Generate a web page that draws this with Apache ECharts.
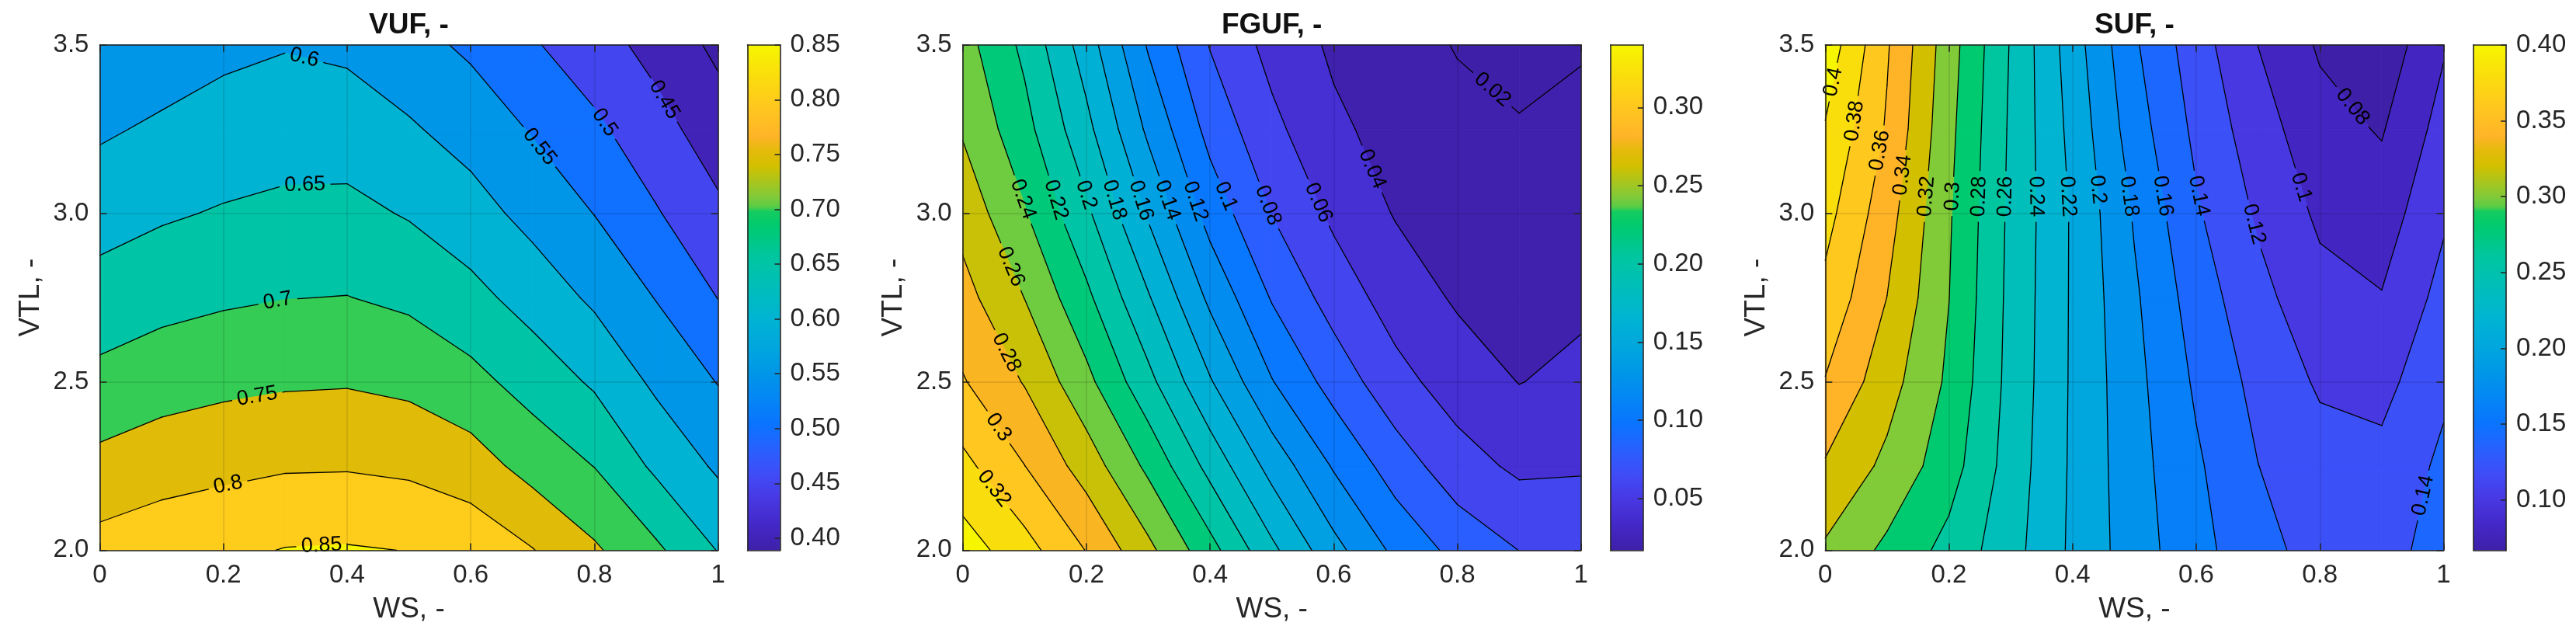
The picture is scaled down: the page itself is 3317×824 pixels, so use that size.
<!DOCTYPE html>
<html>
<head>
<meta charset="utf-8">
<script src="https://cdn.jsdelivr.net/npm/echarts@6.0.0/dist/echarts.min.js"></script>
<style>
html,body{margin:0;padding:0;background:#ffffff;}
#chart{width:3317px;height:824px;}
</style>
</head>
<body>
<div id="chart"></div>
<script>
// ---------------- DATA ----------------
const WS = [0, 0.1, 0.2, 0.3, 0.4, 0.5, 0.6, 0.7, 0.8, 0.9, 1.0];
const VTL = [2.0, 2.25, 2.5, 2.75, 3.0, 3.25, 3.5];

// rows follow VTL (2.0 -> 3.5), columns follow WS (0 -> 1)
const VUF = [
  [0.818, 0.831, 0.839, 0.852, 0.854, 0.849, 0.834, 0.802, 0.757, 0.709, 0.648],
  [0.764, 0.779, 0.788, 0.795, 0.796, 0.790, 0.773, 0.732, 0.699, 0.640, 0.592],
  [0.714, 0.729, 0.738, 0.744, 0.746, 0.738, 0.715, 0.680, 0.643, 0.590, 0.548],
  [0.670, 0.684, 0.693, 0.699, 0.701, 0.690, 0.665, 0.630, 0.591, 0.548, 0.499],
  [0.630, 0.644, 0.654, 0.661, 0.663, 0.646, 0.620, 0.584, 0.549, 0.504, 0.460],
  [0.593, 0.608, 0.621, 0.628, 0.626, 0.606, 0.580, 0.546, 0.510, 0.468, 0.424],
  [0.556, 0.572, 0.588, 0.597, 0.590, 0.567, 0.541, 0.505, 0.471, 0.433, 0.389]
];
const FGUF = [
  [0.3500, 0.3276, 0.2993, 0.2651, 0.2273, 0.1846, 0.1465, 0.1154, 0.0938, 0.0798, 0.0770],
  [0.3255, 0.3003, 0.2709, 0.2356, 0.1935, 0.1527, 0.1180, 0.0905, 0.0684, 0.0561, 0.0577],
  [0.3016, 0.2787, 0.2456, 0.2058, 0.1618, 0.1210, 0.0920, 0.0667, 0.0505, 0.0395, 0.0448],
  [0.2870, 0.2597, 0.2245, 0.1818, 0.1356, 0.0984, 0.0716, 0.0510, 0.0375, 0.0336, 0.0363],
  [0.2730, 0.2417, 0.2039, 0.1576, 0.1121, 0.0795, 0.0559, 0.0387, 0.0313, 0.0271, 0.0304],
  [0.2580, 0.2267, 0.1857, 0.1361, 0.0934, 0.0650, 0.0438, 0.0329, 0.0250, 0.0207, 0.0245],
  [0.2480, 0.2154, 0.1700, 0.1180, 0.0790, 0.0534, 0.0367, 0.0272, 0.0190, 0.0170, 0.0185]
];
const SUF = [
  [0.3170, 0.2956, 0.2737, 0.2475, 0.2163, 0.1895, 0.1665, 0.1470, 0.1320, 0.1310, 0.1500],
  [0.3380, 0.3152, 0.2890, 0.2513, 0.2169, 0.1876, 0.1630, 0.1402, 0.1280, 0.1260, 0.1440],
  [0.3590, 0.3284, 0.2964, 0.2536, 0.2173, 0.1860, 0.1570, 0.1340, 0.1174, 0.1135, 0.1362],
  [0.3745, 0.3398, 0.3003, 0.2546, 0.2175, 0.1830, 0.1505, 0.1260, 0.1066, 0.1010, 0.1266],
  [0.3870, 0.3482, 0.3023, 0.2557, 0.2176, 0.1780, 0.1425, 0.1172, 0.0964, 0.0897, 0.1171],
  [0.3985, 0.3578, 0.3055, 0.2569, 0.2139, 0.1695, 0.1354, 0.1088, 0.0873, 0.0784, 0.1076],
  [0.4130, 0.3620, 0.3090, 0.2585, 0.2095, 0.1627, 0.1289, 0.0998, 0.0775, 0.0670, 0.0980]
];

const VUF_LEVELS = [0.40, 0.45, 0.50, 0.55, 0.60, 0.65, 0.70, 0.75, 0.80, 0.85];
const FGUF_LEVELS = [0.02, 0.04, 0.06, 0.08, 0.10, 0.12, 0.14, 0.16, 0.18, 0.20, 0.22, 0.24, 0.26, 0.28, 0.30, 0.32, 0.34];
const SUF_LEVELS = [0.08, 0.10, 0.12, 0.14, 0.16, 0.18, 0.20, 0.22, 0.24, 0.26, 0.28, 0.30, 0.32, 0.34, 0.36, 0.38, 0.40];

const X_TICKS = [0, 0.2, 0.4, 0.6, 0.8, 1];
const Y_TICKS = [2.0, 2.5, 3.0, 3.5];
const VUF_BAR_TICKS = [0.40, 0.45, 0.50, 0.55, 0.60, 0.65, 0.70, 0.75, 0.80, 0.85];
const FGUF_BAR_TICKS = [0.05, 0.10, 0.15, 0.20, 0.25, 0.30];
const SUF_BAR_TICKS = [0.10, 0.15, 0.20, 0.25, 0.30, 0.35, 0.40];

const TITLES = ['VUF, -', 'FGUF, -', 'SUF, -'];
const X_NAME = 'WS, -';
const Y_NAME = 'VTL, -';

// ---------------- LABEL PLACEMENT HINTS (level, near WS, near VTL) ----------------
const VUF_LABEL_AT = [[0.45,0.912,3.336],[0.50,0.812,3.264],[0.55,0.711,3.197],[0.60,0.332,3.47],[0.65,0.332,3.082],[0.70,0.288,2.739],[0.75,0.255,2.454],[0.80,0.207,2.198],[0.85,0.359,2.012]];
const FGUF_LABEL_AT = [[0.02,0.851,3.355],[0.04,0.653,3.124],[0.06,0.569,3.027],[0.08,0.49,3.021],[0.10,0.419,3.046],[0.12,0.373,3.033],[0.14,0.329,3.037],[0.16,0.287,3.037],[0.18,0.246,3.04],[0.20,0.199,3.054],[0.22,0.155,3.042],[0.24,0.098,3.042],[0.26,0.076,2.84],[0.28,0.063,2.579],[0.30,0.055,2.361],[0.32,0.049,2.18]];
const SUF_LABEL_AT = [[0.40,0.012,3.39],[0.38,0.05,3.273],[0.36,0.0895,3.186],[0.34,0.127,3.113],[0.32,0.165,3.05],[0.30,0.207,3.05],[0.28,0.249,3.05],[0.26,0.29,3.05],[0.24,0.34,3.05],[0.22,0.393,3.05],[0.20,0.439,3.07],[0.18,0.491,3.05],[0.16,0.542,3.05],[0.14,0.599,3.05],[0.12,0.692,2.967],[0.10,0.767,3.076],[0.08,0.85,3.312],[0.14,0.956,2.167]];

// ---------------- STYLE ----------------
const FONT = '"Liberation Sans", Arial, Helvetica, sans-serif';
const TXT = '#262626';
const TOP = 57.8, H = 650.6, W = 796.2, BW = 42.1;
const LAYOUT = [{left:128.4, barLeft:962.5},{left:1239.6, barLeft:2073.7},{left:2350.3, barLeft:3185.0}];
const LABEL_FONT = 27;
const CMAP = [
  [0.00,[62,32,168]],[0.05,[68,40,200]],[0.10,[72,56,226]],[0.15,[64,76,246]],[0.20,[40,96,255]],
  [0.25,[10,116,255]],[0.30,[4,134,245]],[0.35,[0,150,232]],[0.40,[0,166,222]],[0.46,[0,180,210]],
  [0.52,[0,190,186]],[0.58,[0,198,160]],[0.64,[0,202,112]],[0.67,[20,204,96]],[0.68,[90,204,70]],
  [0.70,[130,202,56]],[0.76,[210,192,0]],[0.79,[228,186,10]],[0.82,[255,180,40]],[0.88,[255,200,30]],
  [0.94,[250,222,12]],[1.00,[246,246,0]]
];
function cmap(t){
  t = Math.max(0, Math.min(1, t));
  for (let i = 1; i < CMAP.length; i++) {
    if (t <= CMAP[i][0]) {
      const t0 = CMAP[i-1][0], c0 = CMAP[i-1][1], t1 = CMAP[i][0], c1 = CMAP[i][1];
      const f = (t - t0) / (t1 - t0);
      return 'rgb(' + c0.map((c,k)=>Math.round(c + f*(c1[k]-c))).join(',') + ')';
    }
  }
  return 'rgb(' + CMAP[CMAP.length-1][1].join(',') + ')';
}

const PLOTS = [
  {title:TITLES[0], Z:VUF, levels:VUF_LEVELS, barTicks:VUF_BAR_TICKS, hints:VUF_LABEL_AT},
  {title:TITLES[1], Z:FGUF, levels:FGUF_LEVELS, barTicks:FGUF_BAR_TICKS, hints:FGUF_LABEL_AT},
  {title:TITLES[2], Z:SUF, levels:SUF_LEVELS, barTicks:SUF_BAR_TICKS, hints:SUF_LABEL_AT}
];

// ---------------- CONTOUR HELPERS ----------------
function clipPoly(poly, th, keepAbove){
  const out = [];
  for (let a = 0; a < poly.length; a++) {
    const p = poly[a], q = poly[(a+1) % poly.length];
    const pin = keepAbove ? p.v >= th : p.v < th;
    const qin = keepAbove ? q.v >= th : q.v < th;
    if (pin) out.push(p);
    if (pin !== qin) {
      const t = (th - p.v) / (q.v - p.v);
      out.push({x:p.x + t*(q.x-p.x), y:p.y + t*(q.y-p.y), v:th});
    }
  }
  return out;
}
function fmtLevel(L){ return String(parseFloat(L.toFixed(4))); }
function textW(s){ let w = 0; for (const ch of s) w += (ch === '.') ? 0.278 : 0.556; return w; }

function makeContour(pl){
  return function(params, api){
    if (params.dataIndex !== 0) return null;
    const Z = pl.Z, levels = pl.levels;
    const zmin = Math.min.apply(null, Z.map(r=>Math.min.apply(null, r)));
    const Lmax = levels[levels.length-1];
    const nx = WS.length, ny = VTL.length;
    const P = [];
    for (let j = 0; j < ny; j++) {
      P.push([]);
      for (let i = 0; i < nx; i++) {
        const c = api.coord([WS[i], VTL[j]]);
        P[j].push({x:c[0], y:c[1], v:Z[j][i]});
      }
    }
    const children = [];
    const edges = [-Infinity].concat(levels, [Infinity]);
    const cells = [];
    for (let j = 0; j < ny-1; j++) for (let i = 0; i < nx-1; i++) cells.push([P[j][i], P[j][i+1], P[j+1][i+1], P[j+1][i]]);
    // filled bands
    cells.forEach(cell=>{
      const vs = cell.map(p=>p.v);
      const vmin = Math.min.apply(null, vs), vmax = Math.max.apply(null, vs);
      for (let b = 0; b < edges.length-1; b++) {
        const lo = edges[b], hi = edges[b+1];
        if (vmax < lo || vmin >= hi) continue;
        let poly = cell;
        if (lo > -Infinity) poly = clipPoly(poly, lo, true);
        if (poly.length < 3) continue;
        if (hi < Infinity) poly = clipPoly(poly, hi, false);
        if (poly.length < 3) continue;
        const t = b === 0 ? 0 : (edges[b] - zmin) / (Lmax - zmin);
        const col = cmap(t);
        children.push({type:'polygon', silent:true, shape:{points:poly.map(p=>[p.x,p.y])}, style:{fill:col, stroke:col, lineWidth:0.9}});
      }
    });
    // contour segments
    const segs = levels.map(()=>[]);
    levels.forEach((L, li)=>{
      cells.forEach(cell=>{
        const cr = [];
        for (let e = 0; e < 4; e++) {
          const p = cell[e], q = cell[(e+1)%4];
          const pa = p.v >= L, qa = q.v >= L;
          if (pa !== qa) {
            const t = (L - p.v) / (q.v - p.v);
            cr.push({x:p.x + t*(q.x-p.x), y:p.y + t*(q.y-p.y), exit:pa});
          }
        }
        if (cr.length === 2) segs[li].push([cr[0], cr[1]]);
        else if (cr.length === 4) { for (let a = 0; a < 4; a++) if (cr[a].exit) segs[li].push([cr[a], cr[(a+1)%4]]); }
      });
    });
    // labels
    const labels = [];
    pl.hints.forEach(h=>{
      const li = levels.findIndex(l=>Math.abs(l - h[0]) < 1e-9);
      if (li < 0) return;
      const T = api.coord([h[1], h[2]]);
      let best = null;
      segs[li].forEach(s=>{
        const a = s[0], b = s[1];
        const dx = b.x - a.x, dy = b.y - a.y, len2 = dx*dx + dy*dy;
        if (len2 < 1e-9) return;
        let t = ((T[0]-a.x)*dx + (T[1]-a.y)*dy) / len2;
        t = Math.max(0, Math.min(1, t));
        const px = a.x + t*dx, py = a.y + t*dy;
        const d = (px-T[0])*(px-T[0]) + (py-T[1])*(py-T[1]);
        if (!best || d < best.d) best = {d:d, x:px, y:py, ang:Math.atan2(dy, dx)};
      });
      if (!best) return;
      let th = best.ang;
      if (th > Math.PI/2) th -= Math.PI;
      if (th <= -Math.PI/2) th += Math.PI;
      const txt = fmtLevel(h[0]);
      labels.push({li:li, x:best.x, y:best.y, th:th, txt:txt, r:textW(txt)*LABEL_FONT/2 + 7});
    });
    // lines with gaps
    segs.forEach((list, li)=>{
      const labs = labels.filter(l=>l.li === li);
      list.forEach(s=>{
        const a = s[0], b = s[1];
        const dx = b.x - a.x, dy = b.y - a.y;
        let keep = [[0,1]];
        labs.forEach(lb=>{
          const fx = a.x - lb.x, fy = a.y - lb.y;
          const A = dx*dx + dy*dy, B = 2*(fx*dx + fy*dy), C = fx*fx + fy*fy - lb.r*lb.r;
          const disc = B*B - 4*A*C;
          if (A < 1e-12 || disc <= 0) return;
          const sq = Math.sqrt(disc);
          const t1 = (-B - sq)/(2*A), t2 = (-B + sq)/(2*A);
          const nk = [];
          keep.forEach(iv=>{
            if (t2 <= iv[0] || t1 >= iv[1]) { nk.push(iv); return; }
            if (t1 > iv[0]) nk.push([iv[0], t1]);
            if (t2 < iv[1]) nk.push([t2, iv[1]]);
          });
          keep = nk;
        });
        keep.forEach(iv=>{
          if (iv[1] - iv[0] < 1e-6) return;
          children.push({type:'line', silent:true, shape:{x1:a.x + iv[0]*dx, y1:a.y + iv[0]*dy, x2:a.x + iv[1]*dx, y2:a.y + iv[1]*dy}, style:{stroke:'#000000', lineWidth:1.3, lineCap:'round'}});
        });
      });
    });
    labels.forEach(lb=>{
      children.push({type:'text', silent:true, x:lb.x, y:lb.y, rotation:-lb.th,
        style:{text:lb.txt, fill:'#000000', font:LABEL_FONT + 'px ' + FONT, align:'center', verticalAlign:'middle'}});
    });
    return {type:'group', children:children};
  };
}

function makeBar(pl, zmin, Lmax){
  return function(params, api){
    if (params.dataIndex !== 0) return null;
    const a = api.coord([0, zmin]), b = api.coord([1, Lmax]);
    const stops = CMAP.map(s=>({offset:s[0], color:'rgb(' + s[1].join(',') + ')'}));
    return {type:'rect', silent:true, shape:{x:a[0], y:b[1], width:b[0]-a[0], height:a[1]-b[1]},
      style:{fill:{type:'linear', x:0, y:1, x2:0, y2:0, colorStops:stops}}};
  };
}

// ---------------- OPTION ----------------
const option = {animation:false, backgroundColor:'#ffffff', grid:[], xAxis:[], yAxis:[], series:[], graphic:[]};
const axLine = {show:true, onZero:false, lineStyle:{color:TXT, width:1.6}};
const axTick = {show:true, inside:true, length:9, lineStyle:{color:TXT, width:1.6}};
const gridLn = {show:true, lineStyle:{color:'rgba(0,0,0,0.13)', width:1.5}};
const tickFont = {fontSize:33, color:TXT, fontFamily:FONT};
const nameFont = {fontSize:37, color:TXT, fontFamily:FONT};

PLOTS.forEach((pl, k)=>{
  const L = LAYOUT[k];
  const zmin = Math.min.apply(null, pl.Z.map(r=>Math.min.apply(null, r)));
  const Lmax = pl.levels[pl.levels.length-1];
  option.grid.push({left:L.left, top:TOP, width:W, height:H, outerBoundsMode:'none', containLabel:false});
  option.grid.push({left:L.barLeft, top:TOP, width:BW, height:H, outerBoundsMode:'none', containLabel:false});
  const g0 = 2*k, g1 = 2*k + 1;
  option.xAxis.push({gridIndex:g0, type:'value', min:0, max:1, interval:0.2, position:'bottom', z:10,
    axisLine:axLine, axisTick:axTick, splitLine:gridLn,
    axisLabel:Object.assign({margin:16, customValues:X_TICKS}, tickFont),
    name:X_NAME, nameLocation:'middle', nameGap:58, nameTextStyle:nameFont});
  option.xAxis.push({gridIndex:g0, type:'value', min:0, max:1, interval:0.2, position:'top', z:10,
    axisLine:axLine, axisTick:axTick, splitLine:{show:false}, axisLabel:{show:false}});
  option.xAxis.push({gridIndex:g1, type:'value', min:0, max:1, position:'bottom', z:10,
    axisLine:axLine, axisTick:{show:false}, splitLine:{show:false}, axisLabel:{show:false}});
  option.xAxis.push({gridIndex:g1, type:'value', min:0, max:1, position:'top', z:10,
    axisLine:axLine, axisTick:{show:false}, splitLine:{show:false}, axisLabel:{show:false}});
  option.yAxis.push({gridIndex:g0, type:'value', min:2, max:3.5, interval:0.5, position:'left', z:10,
    axisLine:axLine, axisTick:axTick, splitLine:gridLn,
    axisLabel:Object.assign({margin:14, formatter:v=>v.toFixed(1)}, tickFont),
    name:Y_NAME, nameLocation:'middle', nameGap:70, nameRotate:90, nameTextStyle:nameFont});
  option.yAxis.push({gridIndex:g0, type:'value', min:2, max:3.5, interval:0.5, position:'right', z:10,
    axisLine:axLine, axisTick:axTick, splitLine:{show:false}, axisLabel:{show:false}});
  option.yAxis.push({gridIndex:g1, type:'value', min:zmin, max:Lmax, position:'left', z:10,
    axisLine:axLine, axisTick:{show:false}, splitLine:{show:false}, axisLabel:{show:false}});
  option.yAxis.push({gridIndex:g1, type:'value', min:zmin, max:Lmax, position:'right', z:10,
    axisLine:axLine,
    axisTick:{show:true, inside:true, length:7, customValues:pl.barTicks, lineStyle:{color:TXT, width:1.6}},
    axisLabel:Object.assign({margin:13, customValues:pl.barTicks, formatter:v=>v.toFixed(2)}, tickFont),
    splitLine:{show:false}});
  const flat = [];
  VTL.forEach((v, j)=>WS.forEach((w, i)=>flat.push([w, v, pl.Z[j][i]])));
  option.series.push({type:'custom', coordinateSystem:'cartesian2d', xAxisIndex:4*k, yAxisIndex:4*k,
    clip:false, silent:true, z:2, data:flat, renderItem:makeContour(pl)});
  option.series.push({type:'custom', coordinateSystem:'cartesian2d', xAxisIndex:4*k+2, yAxisIndex:4*k+3,
    clip:false, silent:true, z:2, data:[[0, zmin],[1, Lmax]], renderItem:makeBar(pl, zmin, Lmax)});
  option.graphic.push({type:'text', x:L.left + W/2, y:32.6, silent:true,
    style:{text:pl.title, font:'bold 37px ' + FONT, fill:'#111111', align:'center', verticalAlign:'middle', textAlign:'center', textVerticalAlign:'middle'}});
});

const chart = echarts.init(document.getElementById('chart'), null, {renderer:'canvas'});
chart.setOption(option);
</script>
</body>
</html>
